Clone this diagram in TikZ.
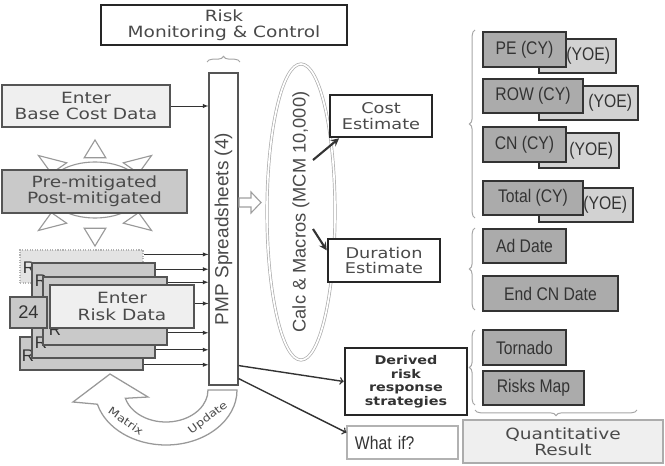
\documentclass[tikz,border=0pt]{standalone}
\usepackage{fontspec}
\newfontfamily\vfont[FakeStretch=1.2]{DejaVu Sans}
\newfontfamily\afont[FakeStretch=0.86]{Liberation Sans}
\newfontfamily\rfont{Liberation Sans}
\usetikzlibrary{arrows,positioning,calc,decorations.pathreplacing}
\definecolor{ink}{HTML}{333333}
\definecolor{txt}{HTML}{4A4A4A}
\definecolor{edge}{HTML}{555555}
\definecolor{cyfill}{HTML}{ABABAB}
\definecolor{yoefill}{HTML}{D2D2D2}
\definecolor{cardfill}{HTML}{C9C9C9}
\definecolor{lightfill}{HTML}{EFEFEF}

\tikzset{
  wh/.style 2 args={minimum width=#1*0.025cm, minimum height=#2*0.025cm},
  box/.style={draw=edge, line width=1.2pt, inner sep=0pt, align=center, text=txt,
    font=\vfont\fontsize{11}{11.5}\selectfont},
  boldbox/.style={box, draw=black!85, line width=1.8pt, fill=white},
  cybox/.style={draw=ink, line width=0.9pt, fill=cyfill, inner sep=0pt, text=ink,
    font=\afont\fontsize{13}{14}\selectfont},
  yoebox/.style={cybox, fill=yoefill, align=right},
  card/.style={draw=edge, line width=1.1pt, fill=cardfill, inner sep=0pt},
  letter/.style={text=ink, inner sep=0pt, font=\rfont\fontsize{12}{12}\selectfont},
  brc/.style={draw=gray!70, line width=0.7pt, decorate, decoration={brace, amplitude=4pt}},
  ray/.style={draw=gray!80, line width=0.8pt, fill=white},
}

\begin{document}
\begin{tikzpicture}[x=0.025cm, y=-0.025cm]
\useasboundingbox (0,0) rectangle (665,466);

\node (rmc) [boldbox, wh={246}{40}] at (224,25) {Risk\\Monitoring \& Control};
\draw[brc] (207,62) -- (240,62);

\node (base) [box, fill=lightfill, wh={168}{42}] at (86,106) {Enter\\Base Cost Data};

% sun
\coordinate (sun) at (95,193);
\draw[ray] (95,190) ellipse [x radius=48, y radius=28];
\foreach \a in {45,90,135,225,270,315}
  \draw[ray] ($(sun)+(\a:80 and 53)$) -- ($(sun)+(\a+12:52 and 36)$) -- ($(sun)+(\a-12:52 and 36)$) -- cycle;
\node (mit) [box, fill=cardfill, line width=1.4pt, wh={185}{43}] at (94.5,191.5) {Pre-mitigated\\Post-mitigated};

\node (pmp) [draw=edge, line width=0.8pt, fill=white, inner sep=0pt, text=txt,
  font=\rfont\fontsize{13.5}{14}\selectfont, wh={29}{312}] at (223.5,229) {\rotatebox{90}{PMP Spreadsheets (4)}};

% risk cards
\node (cd1) [card, draw=gray!60, line width=0.8pt, densely dotted, fill=gray!22, wh={123}{33}] at (81.5,266.5) {};
\node (r1) [letter] at (29,268) {R};
\node (cd6) [card, wh={123}{33}] at (81.5,353.5) {};
\node (r4) [letter] at (28,356) {R};
\node (cd2) [card, wh={123}{95}] at (93.5,310.5) {};
\node (r2) [letter] at (41,281) {R};
\node (r3) [letter] at (41,343) {R};
\node (cd3) [card, wh={124}{68}] at (105,311) {};
\node (r5) [letter] at (55,330) {R};
\node (risk) [box, fill=lightfill, line width=1.4pt, wh={144}{43}] at (122,306.5) {Enter\\Risk Data};
\node (n24) [card, text=ink, font=\rfont\fontsize{13}{14}\selectfont, wh={37}{31}] at (28.5,312.5) {24};

\draw[-latex, ink] (base.east) -- (base.east -| pmp.west);
\draw[-latex, ink] (cd1.north east) ++(0,5) coordinate (a1) -- (a1 -| pmp.west);
\draw[-latex, ink] (cd2.north east) ++(0,7) coordinate (a2) -- (a2 -| pmp.west);
\draw[-latex, ink] (cd3.north east) ++(0,6) coordinate (a3) -- (a3 -| pmp.west);
\draw[-latex, ink] (risk.east) ++(0,-3) coordinate (a4) -- (a4 -| pmp.west);
\draw[-latex, ink] (cd3.south east) ++(0,-13) coordinate (a5) -- (a5 -| pmp.west);
\draw[-latex, ink] (cd2.south east) ++(0,-9) coordinate (a6) -- (a6 -| pmp.west);
\draw[-latex, ink] (cd6.south east) ++(0,-6) coordinate (a7) -- (a7 -| pmp.west);

% matrix update loop
\draw[ray, line width=0.9pt] (237,390) arc[start angle=0, end angle=165, x radius=71, y radius=55]
  -- (73,402) -- (110,374) -- (148,397) -- (125.4,398.3)
  arc[start angle=165, end angle=0, x radius=42, y radius=32] -- cycle;
\node (mtx) [rotate=-35, text=txt, font=\vfont\fontsize{7.5}{8}\selectfont] at (126,421) {Matrix};
\node (upd) [rotate=37, text=txt, font=\vfont\fontsize{7.5}{8}\selectfont] at (208,418) {Update};

% calc ellipse
\draw[draw=gray!65, line width=0.5pt, double=white, double distance=1.2pt] (301,212) ellipse [x radius=34, y radius=148];
\node (calc) [text=txt, font=\rfont\fontsize{13}{14}\selectfont] at (301,212) {\rotatebox{90}{Calc \& Macros (MCM 10,000)}};
\draw[ray, draw=gray!75] (239,198) -- (251,198) -- (251,192) -- (261,202.5) -- (251,213) -- (251,207) -- (239,207) -- cycle;

\node (cost) [boldbox, font=\vfont\fontsize{10.5}{11.3}\selectfont, wh={102}{42}] at (381,116) {Cost\\Estimate};
\node (dur) [boldbox, font=\vfont\fontsize{10.5}{11.3}\selectfont, wh={112}{43}] at (384,260.5) {Duration\\Estimate};
\node (der) [boldbox, text=ink, font=\vfont\bfseries\fontsize{8.5}{9.6}\selectfont, wh={122}{67}] at (406,381.5) {Derived\\risk\\response\\strategies};
\node (what) [box, draw=gray!60, line width=0.8pt, fill=white, text=ink, align=left, text width=2.375cm,
  font=\afont\fontsize{13}{14}\selectfont, wh={111}{33}] at (402.5,442.5) {What if?};

\coordinate (ce) at (313,160);
\coordinate (de) at (313,229);
\draw[-stealth, ink, line width=1.5pt] (ce) -- (cost.208);
\draw[-stealth, ink, line width=1.5pt] (de) -- (dur.170);
\draw[->, ink, line width=1pt] (pmp.south east) ++(0,-20) coordinate (p1) -- (der.west);
\draw[->, ink, line width=1pt] (pmp.south east) ++(0,-7) coordinate (p2) -- (what.170);

% results
\draw[brc] (475,218) -- (475,30);
\node (pey) [yoebox, text width=1.625cm, wh={77}{34}] at (577.5,56) {(YOE)};
\node (pe) [cybox, wh={83}{35}] at (524.5,49.5) {PE (CY)};
\node (rowy) [yoebox, text width=2.175cm, wh={99}{34}] at (588.5,103) {(YOE)};
\node (row) [cybox, wh={100}{34}] at (533,96) {ROW (CY)};
\node (cny) [yoebox, text width=1.7cm, wh={80}{35}] at (579,150.5) {(YOE)};
\node (cn) [cybox, wh={83}{35}] at (524.5,144.5) {CN (CY)};
\node (toty) [yoebox, text width=2.05cm, wh={94}{34}] at (586,205) {(YOE)};
\node (tot) [cybox, wh={100}{34}] at (533,198) {Total (CY)};

\draw[brc] (475,310) -- (475,228);
\node (ad) [cybox, wh={83}{34}] at (524.5,246) {Ad Date};
\node (endcn) [cybox, wh={135}{35}] at (550.5,293.5) {End CN Date};

\draw[brc] (475,405) -- (475,330);
\node (torn) [cybox, wh={83}{35}] at (524.5,347.5) {Tornado};
\node (rmap) [cybox, wh={101}{34}] at (533.5,388) {Risks Map};

\draw[brc] (637,410) -- (475,410);
\node (quant) [box, draw=gray!65, line width=1.6pt, fill=lightfill, wh={200}{43}] at (563,441.5) {Quantitative\\Result};
\end{tikzpicture}
\end{document}
